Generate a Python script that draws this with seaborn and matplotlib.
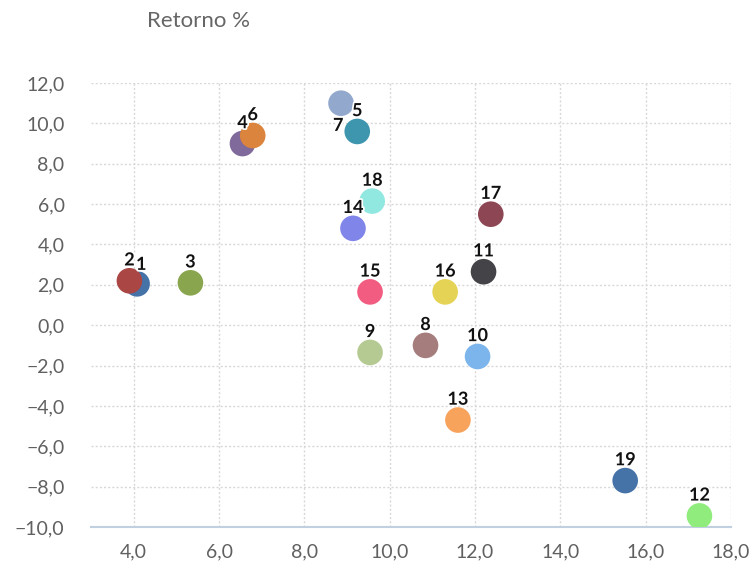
#Scatter of fund return vs volatility (numbered points)

#Import the libraries
import numpy as np
import pandas as pd
import matplotlib
matplotlib.use('Agg')
import matplotlib.pyplot as plt
import matplotlib.patheffects as pe
from matplotlib.ticker import MultipleLocator, FuncFormatter
import seaborn as sns

#Data
labels = ['1', '2', '3', '4', '5', '6', '7', '8', '9', '10',
          '11', '12', '13', '14', '15', '16', '17', '18', '19']
risk = [4.08, 3.90, 5.33, 6.55, 9.24, 6.79, 8.86, 10.84, 9.54, 12.06,
        12.20, 17.26, 11.60, 9.14, 9.54, 11.30, 12.37, 9.59, 15.52]
ret = [2.05, 2.20, 2.10, 9.00, 9.60, 9.40, 11.00, -1.00, -1.35, -1.55,
       2.65, -9.45, -4.70, 4.80, 1.65, 1.65, 5.50, 6.15, -7.70]
colors = ['#4572A7', '#AA4643', '#89A54E', '#80699B', '#3D96AE', '#DB843D',
          '#92A8CD', '#A47D7C', '#B5CA92', '#7CB5EC', '#434348', '#90ED7D',
          '#F7A35C', '#8085E9', '#F15C80', '#E4D354', '#8D4653', '#91E8E1',
          '#4572A7']

df = pd.DataFrame({'label': labels, 'risk': risk, 'ret': ret})

sns.set_style('white')
plt.rcParams['font.family'] = ['Lato', 'DejaVu Sans']

fig = plt.figure(figsize=(7.54, 5.64), dpi=100)
ax = fig.add_axes([0.1207, 0.0656, 0.8488, 0.7872])

sns.scatterplot(data=df, x='risk', y='ret', hue='label', hue_order=labels,
                palette=dict(zip(labels, colors)), s=340, linewidth=0,
                legend=False, ax=ax, zorder=3)

#Point labels, white halo like the original
#(7 sits under its point, 1 nudged right so it peeks out from behind 2)
offsets = {'7': (-2, -16), '1': (3, 14)}
for lab, x, y in zip(labels, risk, ret):
    dx, dy = offsets.get(lab, (0, 15))
    ax.annotate(lab, (x, y), xytext=(dx, dy), textcoords='offset points',
                ha='center', va='center', fontsize=13, fontweight='bold',
                color='#111111', zorder=5,
                path_effects=[pe.withStroke(linewidth=2.5, foreground='white')])

ax.set_xlim(3, 18)
ax.set_ylim(-10, 12)
ax.yaxis.set_major_locator(MultipleLocator(2))
ax.set_xticks(np.arange(4, 18.1, 2))
fmt = FuncFormatter(lambda v, p: ('%.1f' % v).replace('.', ',').replace('-', '\u2212'))
ax.xaxis.set_major_formatter(fmt)
ax.yaxis.set_major_formatter(fmt)

ax.grid(True, color='#D8D8D8', linestyle=(0, (1.5, 1.5)), linewidth=1)
ax.set_axisbelow(True)
for s in ['top', 'right', 'left']:
    ax.spines[s].set_visible(False)
ax.spines['bottom'].set_color('#C0D0E0')
ax.spines['bottom'].set_linewidth(1.5)
ax.tick_params(axis='x', colors='#C0D0E0', length=10, width=1.2,
               labelcolor='#606060', labelsize=14, pad=2)
ax.tick_params(axis='y', length=0, labelcolor='#606060', labelsize=14, pad=19)
ax.set_xlabel('')
ax.set_ylabel('')

fig.text(0.263, 0.962, 'Retorno %', ha='center', va='center',
         fontsize=16, color='#666666')

plt.savefig('out.png', dpi=100)
